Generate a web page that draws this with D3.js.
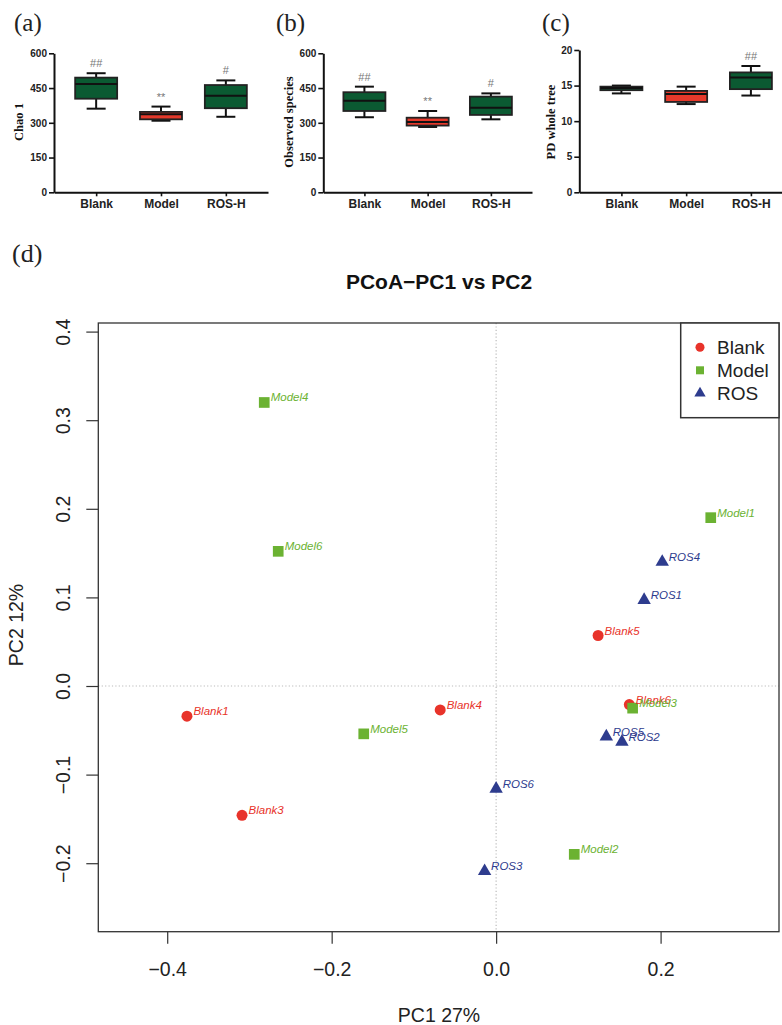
<!DOCTYPE html>
<html>
<head>
<meta charset="utf-8">
<script src="https://cdn.jsdelivr.net/npm/d3@7"></script>
<style>
  body { margin: 0; background: #fff; }
  svg { display: block; }
</style>
</head>
<body>
<div id="chart"></div>
<script>
// ---- box plot data: [min, q1, median, q3, max] per group ----
const groups = ['Blank', 'Model', 'ROS-H'];
const boxFill = ['#0b5a32', '#e5392b', '#0b5a32'];

const chaoStats = [[361, 404, 467, 495, 514], [309, 315, 337, 347, 370], [326, 363, 417, 463, 483]];
const chaoMarks = ['##', '**', '#'];
const chaoTicks = [0, 150, 300, 450, 600];

const observedStats = [[324, 351, 395, 432, 456], [282, 288, 303, 322, 351], [315, 334, 365, 413, 427]];
const observedMarks = ['##', '**', '#'];
const observedTicks = [0, 150, 300, 450, 600];

const pdStats = [[13.9, 14.35, 14.65, 14.85, 15.0], [12.4, 12.7, 13.8, 14.25, 14.85], [13.6, 14.5, 16.15, 16.85, 17.75]];
const pdMarks = ['', '', '##'];
const pdTicks = [0, 5, 10, 15, 20];

// ---- PCoA data ----
const pcoaNames = ['Blank1', 'Blank3', 'Blank4', 'Blank5', 'Blank6',
    'Model1', 'Model2', 'Model3', 'Model4', 'Model5', 'Model6',
    'ROS1', 'ROS2', 'ROS3', 'ROS4', 'ROS5', 'ROS6'];
const pcoaGroup = ['Blank', 'Blank', 'Blank', 'Blank', 'Blank',
    'Model', 'Model', 'Model', 'Model', 'Model', 'Model',
    'ROS', 'ROS', 'ROS', 'ROS', 'ROS', 'ROS'];
const pc1 = [-0.376, -0.309, -0.068, 0.124, 0.162,
    0.261, 0.095, 0.166, -0.282, -0.161, -0.265,
    0.180, 0.153, -0.014, 0.202, 0.134, 0.000];
const pc2 = [-0.034, -0.146, -0.027, 0.057, -0.021,
    0.190, -0.190, -0.025, 0.320, -0.054, 0.152,
    0.097, -0.063, -0.209, 0.140, -0.057, -0.116];
const legendGroups = ['Blank', 'Model', 'ROS'];
const pc1Ticks = [-0.4, -0.2, 0.0, 0.2];
const pc2Ticks = [-0.2, -0.1, 0.0, 0.1, 0.2, 0.3, 0.4];

const groupColor = { Blank: '#e8332a', Model: '#6bb232', ROS: '#2e3c8e' };
const groupSymbol = { Blank: d3.symbolCircle, Model: d3.symbolSquare, ROS: d3.symbolTriangle };
const groupSize = { Blank: 95, Model: 114, ROS: 78 };

const svg = d3.select('#chart')
    .append('svg')
    .attr('width', 782)
    .attr('height', 1025)
    .style('background', '#fff');

const serif = '"Liberation Serif", "Times New Roman", serif';
const sans = '"Liberation Sans", Arial, sans-serif';

// Draw one prism-style box plot panel
const drawBoxPanel = (cfg) => {
    const g = svg.append('g');
    const x = d3.scalePoint().domain(groups).range(cfg.xRange).padding(0.65);
    const y = d3.scaleLinear().domain([0, cfg.yMax]).range([192.3, cfg.yTop]);

    const yAxis = g.append('g')
        .attr('transform', `translate(${cfg.xRange[0]},0)`)
        .call(d3.axisLeft(y).tickValues(cfg.ticks).tickSize(5).tickSizeOuter(0).tickPadding(2));
    const xAxis = g.append('g')
        .attr('transform', 'translate(0,192.3)')
        .call(d3.axisBottom(x).tickSize(4).tickSizeOuter(0).tickPadding(3));

    [yAxis, xAxis].forEach(a => {
        a.select('.domain').attr('stroke', '#111').attr('stroke-width', 2);
        a.selectAll('.tick line').attr('stroke', '#111').attr('stroke-width', 1.6);
        a.selectAll('text').attr('fill', '#222').style('font-family', sans).style('font-weight', 'bold');
    });
    yAxis.selectAll('text').style('font-size', '10px');
    xAxis.selectAll('text').style('font-size', '12px');

    const boxWidth = 42;
    const capWidth = 19;
    cfg.stats.forEach((s, i) => {
        const cx = x(groups[i]);
        const [min, q1, med, q3, max] = s;

        // whisker
        g.append('line')
            .attr('x1', cx).attr('x2', cx)
            .attr('y1', y(min)).attr('y2', y(max))
            .attr('stroke', '#111').attr('stroke-width', 2);
        [min, max].forEach(v => {
            g.append('line')
                .attr('x1', cx - capWidth / 2).attr('x2', cx + capWidth / 2)
                .attr('y1', y(v)).attr('y2', y(v))
                .attr('stroke', '#111').attr('stroke-width', 2);
        });

        // box
        g.append('rect')
            .attr('x', cx - boxWidth / 2)
            .attr('y', y(q3))
            .attr('width', boxWidth)
            .attr('height', Math.max(0, y(q1) - y(q3)))
            .attr('fill', boxFill[i])
            .attr('stroke', '#222')
            .attr('stroke-width', 1.8);

        // median
        g.append('line')
            .attr('x1', cx - boxWidth / 2).attr('x2', cx + boxWidth / 2)
            .attr('y1', y(med)).attr('y2', y(med))
            .attr('stroke', '#111').attr('stroke-width', 2);

        // significance marks
        if (cfg.marks[i]) {
            g.append('text')
                .attr('x', cx)
                .attr('y', y(max) - 6)
                .attr('text-anchor', 'middle')
                .attr('fill', '#777')
                .style('font-family', sans)
                .style('font-size', '11px')
                .text(cfg.marks[i]);
        }
    });

    // y title
    g.append('text')
        .attr('transform', `translate(${cfg.titleX},122) rotate(-90)`)
        .attr('text-anchor', 'middle')
        .attr('fill', '#111')
        .style('font-family', serif)
        .style('font-weight', 'bold')
        .style('font-size', '12.5px')
        .text(cfg.title);

    // panel letter
    svg.append('text')
        .attr('x', cfg.letterX)
        .attr('y', 31)
        .attr('fill', '#222')
        .style('font-family', serif)
        .style('font-size', '25px')
        .text(cfg.letter);
};

drawBoxPanel({ xRange: [54, 268], yMax: 600, yTop: 53.3, ticks: chaoTicks, stats: chaoStats, marks: chaoMarks, title: 'Chao 1', titleX: 22.5, letter: '(a)', letterX: 14 });
drawBoxPanel({ xRange: [323.3, 532], yMax: 600, yTop: 53.3, ticks: observedTicks, stats: observedStats, marks: observedMarks, title: 'Observed species', titleX: 292.5, letter: '(b)', letterX: 276 });
drawBoxPanel({ xRange: [579.3, 793], yMax: 20, yTop: 50, ticks: pdTicks, stats: pdStats, marks: pdMarks, title: 'PD whole tree', titleX: 555, letter: '(c)', letterX: 542 });

// ---- PCoA panel ----
const px = d3.scaleLinear().domain([-0.4838, 0.344]).range([98.3, 779]);
const py = d3.scaleLinear().domain([-0.2773, 0.4097]).range([931.7, 323]);

svg.append('text')
    .attr('x', 12)
    .attr('y', 262)
    .attr('fill', '#222')
    .style('font-family', serif)
    .style('font-size', '26px')
    .text('(d)');

svg.append('text')
    .attr('x', 439)
    .attr('y', 289)
    .attr('text-anchor', 'middle')
    .attr('fill', '#111')
    .style('font-family', sans)
    .style('font-weight', 'bold')
    .style('font-size', '21px')
    .text('PCoA\u2212PC1 vs PC2');

// zero reference lines
svg.append('line')
    .attr('x1', px(0)).attr('x2', px(0))
    .attr('y1', py.range()[1]).attr('y2', py.range()[0])
    .attr('stroke', '#bbb').attr('stroke-width', 1.2).attr('stroke-dasharray', '1.2,2.2');
svg.append('line')
    .attr('x1', px.range()[0]).attr('x2', px.range()[1])
    .attr('y1', py(0)).attr('y2', py(0))
    .attr('stroke', '#bbb').attr('stroke-width', 1.2).attr('stroke-dasharray', '1.2,2.2');

// axes
const xAx = svg.append('g')
    .attr('transform', `translate(0,${py.range()[0]})`)
    .call(d3.axisBottom(px).tickValues(pc1Ticks).tickSize(12).tickSizeOuter(0).tickPadding(18)
        .tickFormat(d => d3.format('.1f')(d).replace('-', '\u2212')));
const yAx = svg.append('g')
    .attr('transform', `translate(${px.range()[0]},0)`)
    .call(d3.axisLeft(py).tickValues(pc2Ticks).tickSize(12).tickSizeOuter(0)
        .tickFormat(d => d3.format('.1f')(d).replace('-', '\u2212')));

[xAx, yAx].forEach(a => {
    a.select('.domain').remove();
    a.selectAll('.tick line').attr('stroke', '#333').attr('stroke-width', 1.2);
    a.selectAll('text').attr('fill', '#222').style('font-family', sans).style('font-size', '19.5px');
});
yAx.selectAll('.tick text')
    .attr('x', null).attr('dy', null)
    .attr('text-anchor', 'middle')
    .attr('transform', 'translate(-28,0) rotate(-90)');

// frame
svg.append('rect')
    .attr('x', px.range()[0])
    .attr('y', py.range()[1])
    .attr('width', px.range()[1] - px.range()[0])
    .attr('height', py.range()[0] - py.range()[1])
    .attr('fill', 'none')
    .attr('stroke', '#333')
    .attr('stroke-width', 1.3);

// axis titles
svg.append('text')
    .attr('x', 439)
    .attr('y', 1022)
    .attr('text-anchor', 'middle')
    .attr('fill', '#222')
    .style('font-family', sans)
    .style('font-size', '19.5px')
    .text('PC1 27%');
svg.append('text')
    .attr('transform', 'translate(23,625) rotate(-90)')
    .attr('text-anchor', 'middle')
    .attr('fill', '#222')
    .style('font-family', sans)
    .style('font-size', '19.5px')
    .text('PC2 12%');

// points and labels (overlapping labels are kept as in the original figure)
const pts = pcoaNames.map((name, i) => ({ name, group: pcoaGroup[i], x: pc1[i], y: pc2[i] }));

svg.append('g')
    .selectAll('path')
    .data(pts)
    .join('path')
    .attr('transform', d => `translate(${px(d.x)},${py(d.y)})`)
    .attr('d', d => d3.symbol(groupSymbol[d.group], groupSize[d.group])())
    .attr('fill', d => groupColor[d.group]);

svg.append('g')
    .selectAll('text')
    .data(pts)
    .join('text')
    .attr('x', d => px(d.x) + 6.5)
    .attr('y', d => py(d.y) - 1)
    .attr('fill', d => groupColor[d.group])
    .style('font-family', sans)
    .style('font-style', 'italic')
    .style('font-size', '11.5px')
    .text(d => d.name);

// legend
const legend = svg.append('g');
legend.append('rect')
    .attr('x', 680.7)
    .attr('y', py.range()[1])
    .attr('width', px.range()[1] - 680.7)
    .attr('height', 417.7 - py.range()[1])
    .attr('fill', '#fff')
    .attr('stroke', '#333')
    .attr('stroke-width', 1.5);

const legendSize = { Blank: 64, Model: 64, ROS: 56 };
legendGroups.forEach((grp, i) => {
    const ly = 347.3 + i * 23;
    legend.append('path')
        .attr('transform', `translate(700,${ly})`)
        .attr('d', d3.symbol(groupSymbol[grp], legendSize[grp])())
        .attr('fill', groupColor[grp]);
    legend.append('text')
        .attr('x', 717)
        .attr('y', ly + 7)
        .attr('fill', '#222')
        .style('font-family', sans)
        .style('font-size', '19px')
        .text(grp);
});
</script>
</body>
</html>
